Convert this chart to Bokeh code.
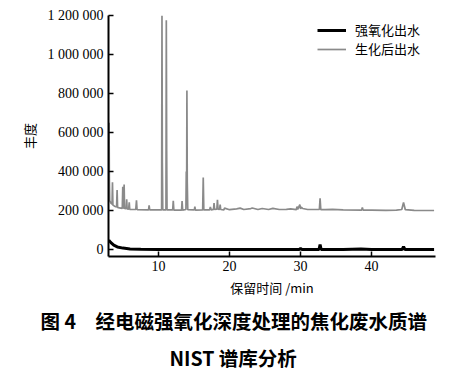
from bokeh.plotting import figure
from bokeh.models import (Range1d, FixedTicker, CustomJSTickFormatter, Legend,
                          LegendItem, Title)
from bokeh.embed import file_html
from bokeh.resources import INLINE

# 生化后出水 (grey) retention time (min) and abundance
bio_t = [3.0, 3.04, 3.08, 3.13, 3.3, 3.46, 3.52, 3.58, 3.8, 4.1, 4.17, 4.24,
         4.5, 4.9, 4.97, 5.04, 5.1, 5.16, 5.22, 5.45, 5.52, 5.58, 5.8, 5.88,
         5.95, 6.8, 6.9, 6.98, 8.6, 8.68, 8.76, 10.44, 10.49, 10.54, 10.6,
         11.05, 11.1, 11.15, 11.2, 12.0, 12.08, 12.16, 13.25, 13.32, 13.4,
         13.86, 13.91, 13.96, 14.0, 14.05, 14.12, 15.05, 15.12, 15.2, 16.22,
         16.3, 16.38, 17.2, 17.3, 17.4, 17.75, 17.82, 17.9, 18.22, 18.3, 18.38,
         18.6, 18.68, 18.76, 19.2, 19.3, 20.0, 21.0, 21.5, 22.0, 23.0, 23.2,
         24.0, 24.6, 25.5, 26.1, 27.0, 28.0, 28.6, 29.4, 29.5, 29.6, 29.9,
         30.0, 30.1, 30.3, 31.0, 32.65, 32.75, 32.85, 33.5, 34.5, 36.0, 38.6,
         38.7, 38.8, 40.0, 42.0, 43.5, 44.25, 44.5, 44.75, 46.0, 48.8]
bio_y = [300000, 650000, 360000, 250000, 238000, 232000, 345000, 228000,
         222000, 218000, 305000, 216000, 213000, 211000, 322000, 213000,
         212000, 333000, 211000, 209000, 258000, 208000, 207000, 242000,
         206000, 205000, 252000, 204000, 203000, 226000, 203000, 203000,
         1200000, 445000, 203000, 203000, 1175000, 505000, 203000, 203000,
         250000, 202000, 202000, 248000, 202000, 205000, 400000, 260000,
         815000, 345000, 204000, 203000, 220000, 202000, 203000, 369000,
         203000, 203000, 218000, 203000, 206000, 238000, 206000, 207000,
         255000, 207000, 205000, 230000, 205000, 203000, 212000, 204000,
         208000, 212000, 205000, 210000, 213000, 205000, 210000, 205000,
         211000, 205000, 206000, 208000, 204000, 220000, 206000, 230000,
         208000, 218000, 210000, 205000, 205000, 262000, 204000, 204000,
         206000, 203000, 202000, 215000, 202000, 202000, 201000, 202000,
         205000, 241000, 204000, 201000, 200000]

# 强氧化出水 (black)
oxi_t = [3.0, 3.3, 3.7, 4.2, 5.0, 6.0, 7.5, 10.0, 15.0, 20.0, 25.0, 29.8,
         30.0, 30.2, 32.6, 32.75, 32.9, 36.0, 38.5, 40.0, 44.3, 44.5, 44.7,
         48.8]
oxi_y = [48000, 35000, 22000, 13000, 7000, 3000, 1000, 0, 0, 0, 0, 0,
         5000, 0, 0, 25000, 0, 0, 2000, 0, 0, 15000, 0, 0]

y_ticks = [0, 200000, 400000, 600000, 800000, 1000000, 1200000]
x_ticks = [10, 20, 30, 40]

names = ["强氧化出水", "生化后出水"]
caption1 = "图 4　经电磁强氧化深度处理的焦化废水质谱"
caption2 = "NIST 谱库分析"

SERIF = "Times New Roman"
CJK = "Noto Sans CJK SC"

p = figure(width=467, height=370, output_backend="svg", toolbar_location=None,
           x_range=Range1d(2.96, 49.0), y_range=Range1d(-36000, 1200000),
           min_border_left=108, min_border_right=32, min_border_top=15,
           min_border_bottom=114)
p.frame_width = 327
p.frame_height = 241
p.outline_line_color = None
p.xgrid.visible = False
p.ygrid.visible = False
p.background_fill_color = "white"
p.border_fill_color = "white"

r_bio = p.line(bio_t, bio_y, line_color="#8a8a8a", line_width=1.7)
r_oxi = p.line(oxi_t, oxi_y, line_color="#000000", line_width=3)

for ax in (p.xaxis[0], p.yaxis[0]):
    ax.axis_line_color = "black"
    ax.axis_line_width = 2
    ax.major_tick_line_color = "black"
    ax.major_tick_line_width = 1.5
    ax.major_tick_in = 5
    ax.major_tick_out = 0
    ax.minor_tick_line_color = None
    ax.major_label_text_font = SERIF
    ax.major_label_text_font_size = "14px"
    ax.major_label_text_color = "black"
    ax.axis_label_text_font = CJK
    ax.axis_label_text_font_size = "13px"
    ax.axis_label_text_font_style = "normal"
    ax.axis_label_text_color = "black"

p.xaxis.ticker = FixedTicker(ticks=x_ticks)
p.yaxis.ticker = FixedTicker(ticks=y_ticks)
p.yaxis.formatter = CustomJSTickFormatter(
    code="return String(Math.round(tick)).replace(/\\B(?=(\\d{3})+(?!\\d))/g, ' ');")
p.xaxis.major_label_standoff = 4
p.yaxis.major_label_standoff = 5
p.xaxis.axis_label = "保留时间 /min"
p.yaxis.axis_label = "丰度"
p.xaxis.axis_label_standoff = 4
p.yaxis.axis_label_standoff = 6

legend = Legend(items=[LegendItem(label=names[0], renderers=[r_oxi]),
                       LegendItem(label=names[1], renderers=[r_bio])],
                location=(209, 198), padding=0, margin=0, spacing=0,
                border_line_color=None, background_fill_alpha=0,
                glyph_width=29, glyph_height=18, label_height=18,
                label_standoff=9, label_text_font=CJK,
                label_text_font_size="13px", label_text_color="black")
p.add_layout(legend, "center")

p.add_layout(Title(text=caption1, align="left", offset=-68, standoff=8,
                   text_font=CJK, text_font_size="19.5px", text_font_style="bold",
                   text_color="black"), "below")
p.add_layout(Title(text=caption2, align="left", offset=61, standoff=4,
                   text_font=CJK, text_font_size="19.5px", text_font_style="bold",
                   text_color="black"), "below")

open("out.html", "w").write(file_html(p, INLINE))
